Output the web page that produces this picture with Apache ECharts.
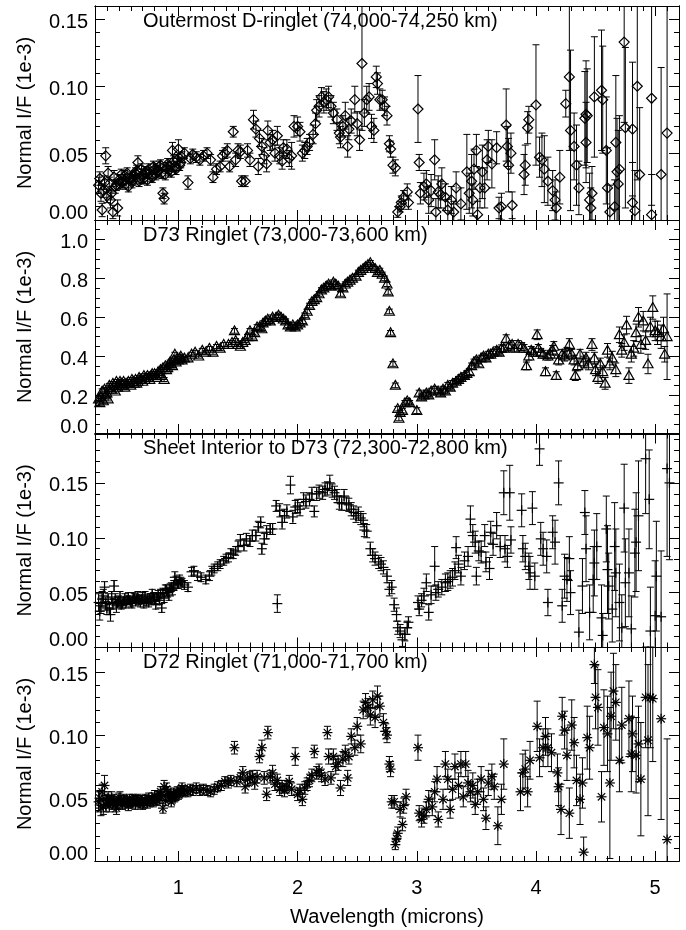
<!DOCTYPE html>
<html>
<head>
<meta charset="utf-8">
<script src="https://cdn.jsdelivr.net/npm/echarts@6/dist/echarts.min.js"></script>
<style>
html,body{margin:0;padding:0;background:#fff;}
#chart{width:686px;height:930px;}
</style>
</head>
<body>
<div id="chart"></div>
<script>
// ---------------- DATA (wavelength [micron], normal I/F [1e-3], error) ----------------
const outermostD = [
[.33,.026,.006],[.35,.020,.006],[.36,.0075,.005],[.39,.048,.006],[.41,.035,.005],[.43,.015,.006],[.45,.006,.005],[.47,.025,.005],[.49,.009,.006],
[.50,.030,.004],[.53,.028,.004],[.55,.033,.004],[.58,.025,.004],[.60,.032,.004],[.62,.030,.004],[.64,.035,.004],[.66,.043,.005],[.68,.031,.004],
[.70,.034,.004],[.72,.036,.004],[.74,.030,.004],[.76,.035,.004],[.78,.032,.004],[.80,.038,.004],[.82,.036,.004],[.84,.040,.004],[.86,.035,.004],
[.87,.020,.004],[.88,.016,.004],[.90,.039,.004],[.92,.037,.004],[.95,.052,.006],[.97,.040,.004],[1.00,.053,.007],[1.02,.043,.004],[1.05,.050,.004],
[1.08,.028,.005],[1.10,.046,.004],[1.12,.049,.004],[1.15,.047,.004],[1.18,.045,.004],[1.21,.048,.004],[1.24,.050,.004],[1.27,.045,.004],[1.29,.032,.004],
[1.32,.038,.004],[1.35,.040,.004],[1.37,.048,.004],[1.39,.050,.004],[1.41,.052,.005],[1.43,.040,.004],[1.46,.066,.004],[1.48,.045,.005],[1.50,.052,.005],
[1.52,.051,.005],[1.53,.029,.004],[1.56,.029,.004],[1.58,.052,.005],[1.60,.045,.005],[1.63,.075,.007],[1.65,.068,.006],[1.67,.040,.006],[1.68,.061,.006],
[1.70,.055,.006],[1.72,.048,.006],[1.74,.042,.006],[1.75,.067,.007],[1.77,.058,.006],[1.79,.060,.007],[1.81,.050,.006],[1.83,.063,.007],[1.85,.048,.006],
[1.87,.044,.006],[1.88,.054,.006],[1.91,.053,.007],[1.93,.046,.006],[1.95,.048,.010],[1.97,.070,.008],[2.00,.070,.007],[2.02,.066,.007],[2.04,.050,.006],
[2.06,.052,.006],[2.08,.055,.006],[2.10,.058,.006],[2.13,.064,.007],[2.15,.072,.008],[2.16,.082,.008],[2.18,.085,.008],[2.20,.092,.007],[2.22,.088,.008],
[2.24,.090,.008],[2.26,.092,.008],[2.28,.085,.008],[2.30,.080,.008],[2.33,.075,.008],[2.35,.065,.008],[2.36,.062,.008],[2.38,.070,.008],[2.40,.078,.010],
[2.42,.055,.008],[2.43,.068,.008],[2.45,.074,.009],[2.48,.090,.010],[2.50,.072,.009],[2.52,.060,.008],[2.54,.117,.050],[2.56,.080,.010],[2.58,.090,.010],
[2.60,.092,.010],[2.62,.070,.009],[2.64,.067,.009],[2.66,.107,.008],[2.67,.102,.008],[2.69,.090,.008],[2.71,.090,.007],[2.73,.085,.007],[2.75,.078,.007],
[2.77,.057,.006],[2.78,.053,.006],[2.80,.041,.006],[2.82,.039,.006],[2.84,.006,.004],[2.86,.010,.004],[2.87,.013,.005],[2.89,.017,.005],[2.92,.021,.006],
[2.93,.013,.005],[3.01,.083,.025],[3.02,.043,.006],[3.03,.020,.008],[3.06,.025,.010],[3.08,.027,.010],[3.10,.015,.010],[3.12,.022,.012],[3.15,.045,.015],
[3.16,.006,.010],[3.18,.021,.012],[3.20,.019,.010],[3.21,.027,.012],[3.24,.017,.010],[3.26,.0075,.008],[3.29,.015,.010],[3.31,.006,.008],[3.33,.024,.012],
[3.37,.012,.012],[3.42,.036,.028],[3.44,.020,.015],[3.46,.029,.020],[3.47,.015,.012],[3.48,.038,.015],[3.50,.052,.012],[3.51,.004,.010],[3.53,.024,.015],
[3.55,.036,.020],[3.57,.024,.015],[3.59,.045,.015],[3.60,.055,.012],[3.63,.042,.018],[3.67,.054,.012],[3.69,.009,.008],[3.71,.010,.010],[3.75,.071,.027],
[3.76,.055,.015],[3.77,.041,.020],[3.79,.050,.015],[3.80,.011,.010],[3.90,.034,.015],[3.91,.041,.015],[3.93,.069,.012],[3.94,.075,.010],[4.00,.086,.045],
[4.03,.047,.015],[4.05,.045,.020],[4.07,.038,.025],[4.10,.029,.018],[4.14,.022,.015],[4.16,.015,.015],[4.17,.009,.012],[4.20,.032,.020],[4.25,.087,.010],
[4.28,.107,.055],[4.29,.067,.060],[4.32,.055,.025],[4.34,.041,.030],[4.36,.024,.020],[4.41,.076,.035],[4.42,.079,.040],[4.43,.078,.035],[4.42,.058,.030],
[4.45,.015,.020],[4.46,.009,.015],[4.47,.020,.020],[4.49,.092,.045],[4.55,.097,.045],[4.56,.090,.040],[4.59,.052,.040],[4.60,.024,.030],[4.62,.006,.020],
[4.66,.010,.020],[4.67,.058,.050],[4.68,.036,.040],[4.69,.027,.040],[4.70,.038,.040],[4.74,.133,.060],[4.75,.069,.060],[4.81,.068,.050],[4.81,.013,.030],
[4.83,.007,.030],[4.85,.100,.070],[4.87,.034,.050],[4.97,.004,.030],[4.97,.091,.080],[5.05,.034,.080],[5.10,.065,.100]
];
const outermostDVis = [
[.34,.031,.005],[.37,.022,.005],[.38,.028,.005],[.40,.018,.005],[.42,.027,.005],[.44,.020,.005],[.46,.032,.005],[.48,.026,.004],[.51,.027,.004],[.52,.034,.004],
[.54,.030,.004],[.56,.027,.004],[.57,.035,.004],[.59,.031,.004],[.61,.028,.004],[.63,.033,.004],[.65,.037,.004],[.67,.029,.004],[.69,.038,.004],[.71,.031,.004],
[.73,.035,.004],[.75,.038,.004],[.77,.033,.004],[.79,.040,.004],[.81,.034,.004],[.83,.037,.004],[.85,.041,.004],[.89,.034,.004],[.91,.042,.004],[.93,.040,.004],
[.94,.036,.004],[.96,.044,.004],[.98,.038,.004],[.99,.045,.004],[1.01,.041,.004],[1.03,.047,.004]
];

const d73Ringlet = [
[.33,.18,.012],[.34,.16,.012],[.36,.22,.012],[.37,.17,.012],[.39,.20,.010],[.41,.18,.010],[.43,.24,.010],[.45,.26,.010],[.47,.22,.010],[.50,.25,.010],
[.52,.26,.010],[.55,.24,.010],[.57,.26,.010],[.60,.25,.010],[.62,.27,.010],[.65,.26,.010],[.68,.28,.010],[.70,.27,.010],[.73,.29,.010],[.76,.28,.010],
[.79,.30,.010],[.82,.29,.010],[.84,.31,.010],[.87,.34,.010],[.88,.28,.010],[.90,.33,.010],[.92,.36,.010],[.95,.35,.010],[.97,.41,.010],[1.00,.38,.010],
[1.02,.40,.010],[1.05,.39,.010],[1.08,.39,.010],[1.11,.41,.010],[1.14,.42,.010],[1.17,.40,.010],[1.20,.43,.010],[1.23,.42,.010],[1.26,.44,.010],[1.29,.42,.010],
[1.32,.45,.010],[1.35,.44,.010],[1.38,.46,.010],[1.42,.46,.010],[1.45,.47,.010],[1.47,.53,.012],[1.48,.48,.010],[1.50,.46,.010],[1.52,.45,.010],[1.54,.47,.010],
[1.56,.48,.010],[1.58,.50,.012],[1.60,.53,.012],[1.62,.50,.012],[1.64,.52,.012],[1.66,.55,.012],[1.68,.55,.012],[1.70,.54,.012],[1.71,.57,.012],[1.73,.58,.012],
[1.75,.59,.012],[1.77,.58,.012],[1.79,.60,.012],[1.82,.60,.012],[1.84,.61,.012],[1.86,.60,.012],[1.88,.59,.012],[1.90,.58,.012],[1.92,.56,.012],[1.94,.55,.012],
[1.96,.56,.012],[1.98,.55,.012],[2.00,.56,.012],[2.02,.57,.012],[2.04,.58,.012],[2.06,.61,.012],[2.08,.63,.012],[2.10,.66,.012],[2.12,.68,.012],[2.14,.69,.012],
[2.16,.70,.012],[2.18,.72,.012],[2.20,.74,.012],[2.22,.75,.012],[2.24,.76,.012],[2.26,.77,.012],[2.28,.76,.012],[2.30,.78,.012],[2.32,.77,.012],[2.34,.76,.012],
[2.36,.72,.012],[2.38,.75,.012],[2.40,.77,.012],[2.42,.78,.012],[2.44,.79,.012],[2.46,.80,.012],[2.49,.81,.012],[2.51,.83,.012],[2.53,.84,.012],[2.55,.85,.012],
[2.57,.86,.012],[2.59,.87,.012],[2.61,.88,.012],[2.63,.86,.012],[2.65,.85,.012],[2.67,.83,.012],[2.69,.84,.012],[2.71,.82,.012],[2.73,.80,.012],[2.75,.77,.012],
[2.76,.73,.012],[2.77,.63,.012],[2.78,.52,.012],[2.80,.36,.012],[2.82,.25,.012],[2.84,.13,.012],[2.85,.08,.012],[2.86,.11,.012],[2.88,.12,.012],[2.90,.16,.012],
[2.92,.17,.012],[2.94,.16,.012],[3.00,.12,.015],[3.02,.21,.015],[3.04,.19,.015],[3.06,.20,.015],[3.08,.21,.015],[3.10,.20,.015],[3.12,.22,.015],[3.15,.23,.015],
[3.18,.22,.015],[3.20,.21,.015],[3.22,.23,.015],[3.24,.22,.015],[3.26,.25,.015],[3.28,.24,.015],[3.30,.26,.015],[3.33,.27,.015],[3.35,.28,.015],[3.37,.29,.015],
[3.40,.30,.015],[3.42,.31,.015],[3.44,.32,.015],[3.46,.35,.015],[3.48,.37,.015],[3.50,.38,.015],[3.52,.36,.015],[3.54,.39,.015],[3.56,.40,.015],[3.58,.39,.015],
[3.60,.41,.015],[3.62,.41,.015],[3.64,.42,.015],[3.67,.43,.018],[3.69,.42,.018],[3.71,.44,.018],[3.73,.44,.018],[3.75,.49,.020],[3.77,.45,.018],[3.80,.46,.020],
[3.82,.44,.018],[3.85,.46,.020],[3.88,.45,.020],[3.90,.44,.020],[3.92,.35,.020],[3.94,.40,.020],[3.96,.43,.020],[3.98,.42,.020],[4.01,.51,.025],[4.02,.44,.020],
[4.04,.42,.020],[4.06,.41,.020],[4.08,.32,.020],[4.10,.40,.020],[4.12,.41,.020],[4.14,.43,.025],[4.15,.45,.025],[4.17,.30,.020],[4.19,.38,.025],[4.22,.41,.025],
[4.24,.40,.025],[4.26,.42,.025],[4.28,.46,.030],[4.30,.41,.025],[4.32,.38,.025],[4.33,.30,.025],[4.35,.35,.025],[4.37,.41,.025],[4.40,.37,.030],[4.42,.39,.030],
[4.44,.36,.030],[4.47,.46,.030],[4.49,.39,.030],[4.50,.33,.030],[4.52,.29,.030],[4.54,.36,.030],[4.56,.32,.030],[4.58,.26,.030],[4.60,.43,.035],[4.62,.36,.030],
[4.64,.39,.035],[4.67,.33,.035],[4.70,.51,.040],[4.72,.43,.035],[4.74,.47,.040],[4.76,.56,.045],[4.78,.30,.040],[4.80,.41,.040],[4.82,.44,.040],[4.84,.52,.045],
[4.86,.60,.050],[4.88,.46,.045],[4.90,.58,.050],[4.92,.48,.045],[4.94,.36,.050],[4.96,.55,.050],[4.98,.65,.060],[5.00,.53,.050],[5.02,.52,.060],[5.05,.50,.060],
[5.07,.54,.060],[5.08,.41,.040],[5.10,.50,.220]
];
const d73RingletVis = [
[.35,.19,.010],[.38,.23,.010],[.40,.21,.010],[.42,.25,.010],[.44,.23,.010],[.46,.25,.010],[.48,.27,.010],[.49,.24,.010],[.51,.27,.010],[.53,.25,.010],
[.54,.27,.010],[.56,.26,.010],[.58,.27,.010],[.59,.26,.010],[.61,.28,.010],[.63,.26,.010],[.64,.28,.010],[.66,.27,.010],[.67,.29,.010],[.69,.28,.010],
[.71,.30,.010],[.72,.28,.010],[.74,.30,.010],[.75,.29,.010],[.77,.30,.010],[.78,.31,.010],[.80,.31,.010],[.81,.30,.010],[.83,.32,.010],[.85,.33,.010],
[.86,.30,.010],[.89,.35,.010],[.91,.34,.010],[.93,.37,.010],[.94,.36,.010],[.96,.38,.010],[.98,.37,.010],[.99,.39,.010],[1.01,.39,.010],[1.03,.38,.010]
];

const sheetInterior = [
[.33,.041,.008],[.34,.033,.008],[.36,.044,.007],[.38,.055,.005],[.40,.036,.006],[.43,.030,.006],[.44,.046,.005],[.46,.056,.005],[.48,.038,.006],[.50,.042,.005],
[.53,.040,.004],[.55,.045,.004],[.57,.043,.004],[.60,.041,.004],[.63,.045,.004],[.65,.044,.004],[.68,.041,.004],[.70,.046,.004],[.73,.042,.004],[.76,.045,.004],
[.79,.046,.004],[.81,.039,.004],[.83,.048,.004],[.86,.036,.004],[.87,.050,.004],[.90,.052,.005],[.92,.047,.004],[.94,.055,.004],[.97,.064,.005],[.99,.058,.004],
[1.02,.060,.004],[1.05,.057,.004],[1.08,.055,.004],[1.11,.069,.004],[1.13,.070,.004],[1.16,.065,.004],[1.19,.064,.004],[1.23,.062,.004],[1.26,.065,.004],[1.28,.070,.004],
[1.30,.072,.004],[1.33,.074,.004],[1.35,.076,.004],[1.38,.079,.004],[1.40,.081,.004],[1.42,.082,.004],[1.44,.086,.004],[1.46,.085,.004],[1.48,.088,.004],[1.50,.092,.005],
[1.52,.098,.005],[1.55,.093,.005],[1.57,.099,.005],[1.60,.097,.005],[1.62,.102,.005],[1.65,.102,.005],[1.67,.110,.005],[1.69,.114,.005],[1.70,.090,.005],[1.72,.099,.005],
[1.74,.105,.006],[1.77,.108,.005],[1.79,.108,.005],[1.82,.129,.005],[1.83,.040,.008],[1.85,.125,.006],[1.87,.114,.006],[1.89,.120,.006],[1.91,.124,.006],[1.94,.148,.008],
[1.96,.119,.006],[1.98,.128,.006],[2.00,.129,.006],[2.02,.126,.006],[2.05,.135,.006],[2.07,.133,.006],[2.10,.135,.006],[2.12,.140,.006],[2.14,.124,.005],[2.16,.140,.006],
[2.18,.142,.006],[2.21,.141,.006],[2.23,.144,.006],[2.25,.145,.006],[2.27,.150,.007],[2.29,.143,.006],[2.31,.141,.006],[2.33,.138,.006],[2.35,.132,.006],[2.37,.131,.006],
[2.39,.138,.006],[2.41,.131,.006],[2.43,.130,.006],[2.45,.126,.006],[2.47,.123,.006],[2.49,.120,.006],[2.51,.122,.006],[2.53,.118,.006],[2.55,.116,.006],[2.56,.107,.006],
[2.58,.106,.006],[2.61,.090,.006],[2.63,.084,.006],[2.65,.081,.006],[2.68,.078,.006],[2.70,.076,.006],[2.72,.073,.006],[2.75,.065,.006],[2.77,.053,.006],[2.79,.055,.006],
[2.81,.039,.006],[2.83,.030,.006],[2.84,.018,.006],[2.86,.015,.006],[2.88,.007,.006],[2.90,.012,.006],[2.92,.018,.006],[2.93,.023,.005],[3.01,.041,.006],[3.02,.035,.006],
[3.04,.043,.006],[3.06,.047,.007],[3.08,.059,.008],[3.10,.032,.007],[3.12,.048,.008],[3.15,.074,.018],[3.16,.050,.007],[3.18,.053,.007],[3.21,.055,.007],[3.24,.059,.008],
[3.26,.060,.008],[3.28,.062,.008],[3.30,.064,.008],[3.32,.070,.008],[3.33,.091,.010],[3.35,.076,.008],[3.37,.065,.008],[3.40,.079,.008],[3.43,.083,.009],[3.45,.117,.012],
[3.47,.102,.010],[3.49,.096,.010],[3.50,.065,.008],[3.52,.088,.009],[3.54,.087,.010],[3.57,.102,.010],[3.58,.078,.009],[3.61,.072,.010],[3.62,.105,.010],[3.64,.094,.010],
[3.67,.111,.012],[3.70,.092,.010],[3.73,.141,.020],[3.74,.090,.012],[3.76,.083,.010],[3.78,.141,.025],[3.79,.098,.012],[3.88,.125,.015],[3.89,.090,.012],[3.91,.083,.012],
[3.94,.074,.012],[3.95,.068,.015],[3.97,.127,.015],[3.99,.065,.012],[4.03,.181,.015],[4.04,.099,.015],[4.06,.090,.015],[4.09,.083,.015],[4.10,.041,.012],[4.14,.105,.015],
[4.16,.096,.020],[4.19,.150,.020],[4.22,.038,.015],[4.24,.065,.020],[4.26,.062,.020],[4.28,.081,.020],[4.29,.050,.020],[4.36,.014,.020],[4.39,.056,.025],[4.41,.123,.020],
[4.42,.090,.030],[4.45,.032,.025],[4.48,.062,.030],[4.49,.077,.030],[4.51,.092,.030],[4.55,.027,.030],[4.56,.011,.020],[4.59,.108,.030],[4.60,.071,.040],[4.61,.056,.030],
[4.64,.035,.030],[4.66,.092,.040],[4.67,.068,.040],[4.70,.041,.035],[4.72,.018,.030],[4.74,.127,.040],[4.75,.059,.040],[4.78,.068,.040],[4.80,.017,.030],[4.83,.086,.040],
[4.84,.096,.045],[4.86,.120,.050],[4.92,.172,.050],[4.95,.135,.045],[4.96,.015,.040],[5.00,.029,.050],[5.01,.065,.050],[5.05,.028,.060],[5.10,.163,.080],[5.12,.150,.070]
];
const sheetInteriorVis = [
[.35,.038,.007],[.37,.047,.006],[.39,.040,.006],[.41,.044,.005],[.42,.035,.005],[.45,.040,.005],[.47,.044,.005],[.49,.041,.005],[.51,.046,.005],[.52,.039,.004],
[.54,.042,.004],[.56,.040,.004],[.58,.046,.004],[.59,.043,.004],[.61,.040,.004],[.62,.046,.004],[.64,.042,.004],[.66,.047,.004],[.67,.043,.004],[.69,.044,.004],
[.71,.040,.004],[.72,.047,.004],[.74,.044,.004],[.75,.041,.004],[.77,.043,.004],[.78,.049,.004],[.80,.044,.004],[.82,.046,.004],[.84,.043,.004],[.85,.049,.004],
[.88,.045,.004],[.89,.053,.004],[.91,.050,.004],[.93,.054,.004],[.95,.052,.004],[.96,.057,.004],[.98,.061,.004],[1.00,.058,.004],[1.01,.062,.004],[1.03,.059,.004]
];

const d72Ringlet = [
[.33,.047,.008],[.35,.042,.006],[.36,.055,.006],[.38,.060,.008],[.39,.045,.006],[.41,.050,.005],[.43,.047,.005],[.45,.046,.005],[.48,.042,.005],[.50,.049,.005],
[.52,.047,.005],[.55,.048,.004],[.57,.046,.004],[.60,.047,.004],[.62,.049,.004],[.65,.048,.004],[.68,.046,.004],[.71,.046,.004],[.73,.048,.004],[.76,.047,.004],
[.78,.050,.004],[.81,.049,.004],[.83,.051,.004],[.85,.055,.004],[.87,.042,.004],[.88,.059,.005],[.90,.057,.005],[.92,.051,.004],[.94,.047,.004],[.97,.051,.004],
[1.00,.053,.004],[1.02,.056,.004],[1.05,.056,.004],[1.08,.055,.004],[1.10,.057,.004],[1.12,.056,.004],[1.15,.058,.004],[1.18,.056,.004],[1.21,.057,.004],[1.24,.056,.004],
[1.27,.055,.004],[1.30,.057,.004],[1.33,.059,.004],[1.36,.060,.004],[1.39,.063,.004],[1.42,.062,.004],[1.44,.064,.004],[1.47,.090,.005],[1.49,.063,.004],[1.52,.066,.004],
[1.54,.070,.005],[1.56,.059,.005],[1.58,.065,.005],[1.60,.066,.005],[1.62,.067,.005],[1.64,.062,.005],[1.66,.067,.005],[1.68,.083,.005],[1.70,.090,.006],[1.72,.066,.005],
[1.74,.053,.005],[1.75,.102,.005],[1.77,.067,.005],[1.79,.070,.006],[1.81,.061,.005],[1.83,.064,.005],[1.85,.057,.005],[1.87,.059,.005],[1.89,.056,.005],[1.91,.059,.005],
[1.93,.063,.005],[1.95,.057,.005],[1.98,.083,.007],[2.00,.053,.005],[2.02,.056,.005],[2.04,.049,.005],[2.06,.058,.005],[2.08,.061,.005],[2.10,.064,.005],[2.12,.068,.005],
[2.14,.087,.005],[2.16,.070,.005],[2.18,.072,.005],[2.20,.068,.005],[2.23,.065,.005],[2.25,.102,.005],[2.26,.083,.006],[2.28,.066,.005],[2.30,.083,.006],[2.32,.075,.006],
[2.34,.078,.006],[2.36,.058,.006],[2.38,.081,.006],[2.40,.086,.006],[2.42,.066,.006],[2.43,.083,.006],[2.45,.099,.006],[2.48,.090,.006],[2.50,.107,.007],[2.53,.093,.007],
[2.55,.120,.007],[2.57,.126,.007],[2.59,.122,.007],[2.61,.116,.008],[2.63,.128,.007],[2.65,.114,.008],[2.67,.131,.008],[2.69,.123,.008],[2.72,.110,.007],[2.74,.103,.006],
[2.75,.100,.006],[2.77,.077,.006],[2.78,.073,.006],[2.79,.047,.005],[2.81,.047,.005],[2.82,.013,.004],[2.83,.018,.005],[2.84,.022,.005],[2.86,.041,.006],[2.88,.029,.005],
[2.89,.044,.006],[2.91,.051,.006],[3.01,.090,.010],[3.02,.038,.006],[3.04,.033,.006],[3.06,.036,.006],[3.08,.041,.006],[3.10,.049,.007],[3.13,.043,.007],[3.15,.055,.008],
[3.17,.065,.010],[3.18,.033,.006],[3.22,.049,.008],[3.24,.077,.010],[3.26,.065,.008],[3.28,.041,.007],[3.30,.057,.008],[3.32,.075,.010],[3.35,.060,.010],[3.37,.077,.010],
[3.39,.051,.008],[3.41,.077,.010],[3.43,.062,.010],[3.45,.055,.008],[3.47,.060,.010],[3.49,.045,.008],[3.51,.055,.010],[3.54,.065,.010],[3.56,.049,.009],[3.58,.034,.009],
[3.60,.062,.010],[3.63,.067,.010],[3.65,.059,.010],[3.68,.028,.015],[3.71,.049,.012],[3.73,.077,.020],[3.87,.055,.015],[3.89,.070,.015],[3.91,.073,.015],[3.93,.055,.012],
[3.95,.080,.015],[4.01,.107,.020],[4.03,.082,.015],[4.06,.090,.015],[4.08,.099,.015],[4.10,.090,.015],[4.13,.086,.015],[4.18,.070,.015],[4.19,.059,.015],[4.21,.041,.020],
[4.22,.115,.015],[4.24,.104,.015],[4.26,.084,.020],[4.28,.038,.020],[4.30,.108,.020],[4.32,.094,.020],[4.34,.064,.020],[4.37,.049,.020],[4.39,.062,.020],[4.40,.007,.012],
[4.43,.098,.025],[4.45,.090,.025],[4.49,.156,.015],[4.50,.130,.025],[4.52,.122,.030],[4.55,.051,.020],[4.57,.106,.030],[4.60,.101,.030],[4.62,.062,.060],[4.63,.115,.035],
[4.65,.135,.030],[4.67,.126,.030],[4.70,.080,.025],[4.72,.108,.030],[4.78,.113,.030],[4.80,.085,.030],[4.81,.101,.030],[4.84,.084,.030],[4.86,.093,.030],[4.88,.065,.045],
[4.92,.130,.040],[4.94,.096,.060],[4.96,.130,.040],[4.98,.129,.050],[5.05,.113,.080],[5.10,.017,.080]
];
const d72RingletVis = [
[.34,.050,.006],[.37,.043,.006],[.40,.048,.005],[.42,.044,.005],[.44,.050,.005],[.46,.048,.005],[.47,.044,.005],[.49,.046,.005],[.51,.050,.005],[.53,.045,.004],
[.54,.049,.004],[.56,.047,.004],[.58,.044,.004],[.59,.049,.004],[.61,.046,.004],[.63,.048,.004],[.64,.045,.004],[.66,.049,.004],[.67,.047,.004],[.69,.048,.004],
[.70,.045,.004],[.72,.049,.004],[.74,.046,.004],[.75,.050,.004],[.77,.048,.004],[.79,.047,.004],[.80,.052,.004],[.82,.048,.004],[.84,.050,.004],[.86,.053,.004],
[.89,.048,.004],[.91,.055,.004],[.93,.053,.004],[.95,.050,.004],[.96,.054,.004],[.98,.052,.004],[.99,.055,.004],[1.01,.054,.004],[1.03,.058,.004],[1.04,.055,.004]
];

// panel titles, axis titles and tick labels
const panelTitles = [
  'Outermost D-ringlet (74,000-74,250 km)',
  'D73 Ringlet (73,000-73,600 km)',
  'Sheet Interior to D73 (72,300-72,800 km)',
  'D72 Ringlet (71,000-71,700 km)'
];
const yTitle = 'Normal I/F (1e-3)';
const xTitle = 'Wavelength (microns)';
const xTicks = [1, 2, 3, 4, 5];
const yTicks = [
  [0, 0.05, 0.10, 0.15],
  [0, 0.2, 0.4, 0.6, 0.8, 1.0],
  [0, 0.05, 0.10, 0.15],
  [0, 0.05, 0.10, 0.15]
];
const yDecimals = [2, 1, 2, 2];
const yMax = [0.16, 1.1, 0.195, 0.17];
const yMinorStep = [0.01, 0.05, 0.01, 0.01];
const xRange = [0.3, 5.2];
const markers = ['diamond', 'triangle', 'plus', 'asterisk'];
const panelData = [
  outermostD.concat(outermostDVis),
  d73Ringlet.concat(d73RingletVis),
  sheetInterior.concat(sheetInteriorVis),
  d72Ringlet.concat(d72RingletVis)
];

// ---------------- LAYOUT ----------------
const FONT = '"Liberation Sans", Arial, Helvetica, sans-serif';
const FS = 20;
const GRID_LEFT = 95, GRID_W = 584, GRID_H = 214;
const GRID_TOP = [6, 220, 433.5, 647];

function steps(a, b, s) {
  const out = [];
  const n = Math.round((b - a) / s);
  for (let k = 0; k <= n; k++) out.push(Math.round((a + k * s) * 1e6) / 1e6);
  return out;
}
const xMinor = steps(xRange[0], xRange[1], 0.1);

function makeRender(kind) {
  return function (params, api) {
    const x = api.value(0), y = api.value(1), e = api.value(2);
    const cs = params.coordSys;
    const p = api.coord([x, y]);
    const t = api.coord([x, y + e]);
    const b = api.coord([x, y - e]);
    const top = cs.y, bottom = cs.y + cs.height;
    const st = { stroke: '#000', lineWidth: 1, fill: null };
    const ms = { stroke: '#000', lineWidth: 1.2, fill: null };
    const ch = [];
    const y1 = Math.max(t[1], top), y2 = Math.min(b[1], bottom);
    ch.push({ type: 'line', shape: { x1: p[0], y1: y1, x2: p[0], y2: y2 }, style: st });
    const cw = 3.5;
    if (t[1] >= top) ch.push({ type: 'line', shape: { x1: p[0] - cw, y1: t[1], x2: p[0] + cw, y2: t[1] }, style: st });
    if (b[1] <= bottom) ch.push({ type: 'line', shape: { x1: p[0] - cw, y1: b[1], x2: p[0] + cw, y2: b[1] }, style: st });
    const cx = p[0], cy = p[1];
    if (kind === 'diamond') {
      const r = 5;
      ch.push({ type: 'polygon', shape: { points: [[cx, cy - r], [cx + r, cy], [cx, cy + r], [cx - r, cy]] }, style: { stroke: '#000', lineWidth: 1.2, fill: 'none' } });
    } else if (kind === 'triangle') {
      const r = 5;
      ch.push({ type: 'polygon', shape: { points: [[cx, cy - r], [cx + r, cy + 3.8], [cx - r, cy + 3.8]] }, style: { stroke: '#000', lineWidth: 1.2, fill: 'none' } });
    } else if (kind === 'plus') {
      const r = 5;
      ch.push({ type: 'line', shape: { x1: cx - r, y1: cy, x2: cx + r, y2: cy }, style: ms });
      ch.push({ type: 'line', shape: { x1: cx, y1: cy - r, x2: cx, y2: cy + r }, style: ms });
    } else {
      const r = 5, d = 3.7;
      ch.push({ type: 'line', shape: { x1: cx - r, y1: cy, x2: cx + r, y2: cy }, style: ms });
      ch.push({ type: 'line', shape: { x1: cx, y1: cy - r, x2: cx, y2: cy + r }, style: ms });
      ch.push({ type: 'line', shape: { x1: cx - d, y1: cy - d, x2: cx + d, y2: cy + d }, style: ms });
      ch.push({ type: 'line', shape: { x1: cx - d, y1: cy + d, x2: cx + d, y2: cy - d }, style: ms });
    }
    return { type: 'group', children: ch };
  };
}

const grids = [], xAxes = [], yAxes = [], series = [], titles = [];
const axisLine = { show: true, onZero: false, lineStyle: { color: '#000', width: 1 } };
const labelStyle = { fontSize: FS, color: '#000', fontFamily: FONT };

for (let i = 0; i < 4; i++) {
  grids.push({ left: GRID_LEFT, top: GRID_TOP[i], width: GRID_W, height: GRID_H });
  titles.push({
    text: panelTitles[i], left: 143, top: GRID_TOP[i] + 5, padding: 0,
    textStyle: { fontSize: FS, fontWeight: 'normal', color: '#000', fontFamily: FONT }
  });
  const xb = { type: 'value', gridIndex: i, min: xRange[0], max: xRange[1], splitLine: { show: false }, axisLine: axisLine };
  const isLast = i === 3;
  xAxes.push(Object.assign({}, xb, {
    position: 'bottom',
    axisTick: { show: true, inside: true, length: 10, customValues: xTicks, lineStyle: { color: '#000' } },
    axisLabel: isLast ? Object.assign({ show: true, customValues: xTicks, margin: 17, formatter: v => String(v) }, labelStyle) : { show: false },
    name: isLast ? xTitle : '', nameLocation: 'middle', nameGap: 46,
    nameTextStyle: labelStyle
  }));
  xAxes.push(Object.assign({}, xb, { position: 'bottom', axisTick: { show: true, inside: true, length: 5, customValues: xMinor, lineStyle: { color: '#000' } }, axisLabel: { show: false } }));
  xAxes.push(Object.assign({}, xb, { position: 'top', axisTick: { show: true, inside: true, length: 10, customValues: xTicks, lineStyle: { color: '#000' } }, axisLabel: { show: false } }));
  xAxes.push(Object.assign({}, xb, { position: 'top', axisTick: { show: true, inside: true, length: 5, customValues: xMinor, lineStyle: { color: '#000' } }, axisLabel: { show: false } }));

  const yMinor = steps(0, yMax[i], yMinorStep[i]).filter(v => v <= yMax[i] + 1e-9);
  const yb = { type: 'value', gridIndex: i, min: 0, max: yMax[i], splitLine: { show: false }, axisLine: axisLine };
  const dec = yDecimals[i];
  yAxes.push(Object.assign({}, yb, {
    position: 'left',
    axisTick: { show: true, inside: true, length: 10, customValues: yTicks[i], lineStyle: { color: '#000' } },
    axisLabel: {
      show: true, customValues: yTicks[i], margin: 7,
      formatter: v => (Math.abs(v) < 1e-9 ? '{z|' + v.toFixed(dec) + '}' : '{n|' + v.toFixed(dec) + '}'),
      rich: {
        n: { fontSize: FS, color: '#000', fontFamily: FONT, padding: [6, 0, 0, 0] },
        z: { fontSize: FS, color: '#000', fontFamily: FONT, padding: [0, 0, 14, 0] }
      }
    },
    name: yTitle, nameLocation: 'middle', nameGap: 60,
    nameTextStyle: labelStyle
  }));
  yAxes.push(Object.assign({}, yb, { position: 'left', axisTick: { show: true, inside: true, length: 5, customValues: yMinor, lineStyle: { color: '#000' } }, axisLabel: { show: false } }));
  yAxes.push(Object.assign({}, yb, { position: 'right', axisTick: { show: true, inside: true, length: 10, customValues: yTicks[i], lineStyle: { color: '#000' } }, axisLabel: { show: false } }));
  yAxes.push(Object.assign({}, yb, { position: 'right', axisTick: { show: true, inside: true, length: 5, customValues: yMinor, lineStyle: { color: '#000' } }, axisLabel: { show: false } }));

  series.push({
    type: 'custom', xAxisIndex: 4 * i, yAxisIndex: 4 * i,
    data: panelData[i], renderItem: makeRender(markers[i]),
    silent: true, animation: false
  });
}

const chart = echarts.init(document.getElementById('chart'), null, { renderer: 'canvas' });
chart.setOption({
  backgroundColor: '#fff',
  animation: false,
  title: titles,
  grid: grids,
  xAxis: xAxes,
  yAxis: yAxes,
  series: series
});
</script>
</body>
</html>
